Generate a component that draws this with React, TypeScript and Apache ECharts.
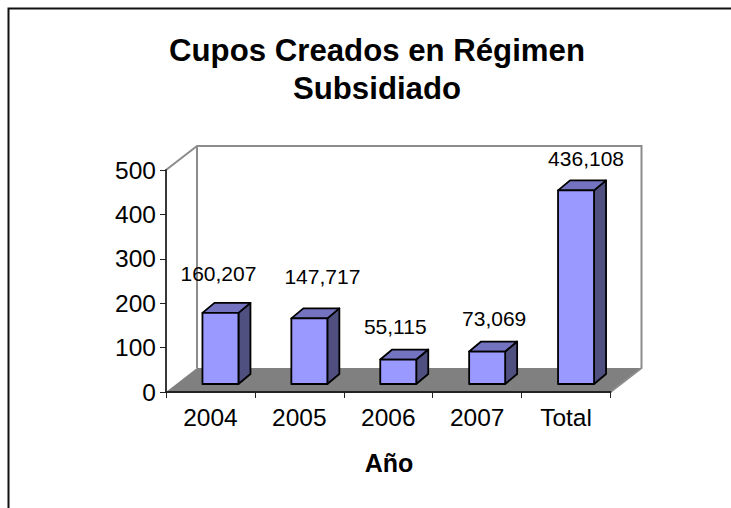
import React, { useEffect, useRef } from "react";
import * as echarts from "echarts";

const categories = ["2004", "2005", "2006", "2007", "Total"];
const values = [160.207, 147.717, 55.115, 73.069, 436.108];
const valueLabels = ["160,207", "147,717", "55,115", "73,069", "436,108"];
const yTicks = [0, 100, 200, 300, 400, 500];

const FONT = "Liberation Sans, Arial, sans-serif";
const DEPTH_X = 31;
const DEPTH_Y = 24;
const BAR_SHIFT_X = 10;
const BAR_SHIFT_Y = 8;
const BAR_W = 36;
const BAR_DX = 12;
const BAR_DY = 10;
const LABEL_NUDGE = [[-11, -39], [4, -42], [-12, -33], [-2, -33], [1, -32]];

export default function App() {
  const ref = useRef<HTMLDivElement>(null);
  useEffect(() => {
    const chart = echarts.init(ref.current!, undefined, { renderer: "svg" });
    const sideStroke = { stroke: "#000", lineWidth: 1.8, lineJoin: "round" };
    chart.setOption({
      animation: false,
      backgroundColor: "#fff",
      title: [
        {
          text: "Cupos Creados en Régimen\nSubsidiado",
          left: 372,
          top: 26,
          textAlign: "center",
          textStyle: { fontFamily: FONT, fontSize: 31.2, fontWeight: "bold", color: "#000", lineHeight: 38 },
        },
        {
          text: "Año",
          left: 384,
          top: 445,
          textAlign: "center",
          textStyle: { fontFamily: FONT, fontSize: 25, fontWeight: "bold", color: "#000" },
        },
      ],
      grid: { left: 166, right: 120.5, top: 170, bottom: 116, containLabel: false },
      xAxis: {
        type: "category",
        data: categories,
        axisLine: { lineStyle: { color: "#222", width: 1.8 } },
        axisTick: { show: true, length: 6, alignWithLabel: false, lineStyle: { color: "#222", width: 1 } },
        axisLabel: { fontFamily: FONT, fontSize: 24.5, color: "#000", margin: 13 },
        z: 5,
      },
      yAxis: {
        type: "value",
        min: 0,
        max: yTicks[yTicks.length - 1],
        interval: 100,
        splitLine: { show: false },
        axisLine: { show: true, lineStyle: { color: "#222", width: 1.8 } },
        axisTick: { show: true, length: 6, lineStyle: { color: "#222", width: 1 } },
        axisLabel: { fontFamily: FONT, fontSize: 24.5, color: "#000", margin: 10 },
        z: 5,
      },
      series: [
        {
          type: "custom",
          data: [[0, 0]],
          silent: true,
          z: 1,
          clip: false,
          renderItem: (_: any, api: any) => {
            const o = api.coord([0, 0]);
            const topLeft = api.coord([0, 500]);
            const size = api.size([1, 0]);
            const x0 = o[0] - size[0] / 2;
            const x1 = x0 + size[0] * categories.length;
            const y0 = o[1];
            const yt = topLeft[1];
            const wall = { fill: "none", stroke: "#8c8c8c", lineWidth: 2 };
            return {
              type: "group",
              children: [
                { type: "polygon", shape: { points: [[x0, y0], [x1, y0], [x1 + DEPTH_X, y0 - DEPTH_Y], [x0 + DEPTH_X, y0 - DEPTH_Y]] }, style: { fill: "#808080" } },
                { type: "polyline", shape: { points: [[x0, yt], [x0 + DEPTH_X, yt - DEPTH_Y], [x1 + DEPTH_X, yt - DEPTH_Y], [x1 + DEPTH_X, y0 - DEPTH_Y], [x1, y0]] }, style: wall },
                { type: "line", shape: { x1: x0 + DEPTH_X, y1: yt - DEPTH_Y, x2: x0 + DEPTH_X, y2: y0 - DEPTH_Y }, style: wall },
              ],
            };
          },
        },
        {
          type: "custom",
          data: values.map((v, i) => [i, v]),
          encode: { x: 0, y: 1 },
          z: 3,
          clip: false,
          renderItem: (_: any, api: any) => {
            const i = api.value(0);
            const v = api.value(1);
            const top = api.coord([i, v]);
            const base = api.coord([i, 0]);
            const xl = top[0] + BAR_SHIFT_X - BAR_W / 2;
            const xr = xl + BAR_W;
            const yt = top[1] - BAR_SHIFT_Y;
            const yb = base[1] - BAR_SHIFT_Y;
            const nudge = LABEL_NUDGE[i];
            return {
              type: "group",
              children: [
                { type: "polygon", shape: { points: [[xr, yt], [xr + BAR_DX, yt - BAR_DY], [xr + BAR_DX, yb - BAR_DY], [xr, yb]] }, style: { fill: "#4f4f80", ...sideStroke } },
                { type: "polygon", shape: { points: [[xl, yt], [xl + BAR_DX, yt - BAR_DY], [xr + BAR_DX, yt - BAR_DY], [xr, yt]] }, style: { fill: "#7373bf", ...sideStroke } },
                { type: "rect", shape: { x: xl, y: yt, width: BAR_W, height: yb - yt }, style: { fill: "#9999ff", ...sideStroke } },
                {
                  type: "text",
                  x: (xl + xr) / 2 + BAR_DX / 2 + nudge[0] + 3,
                  y: yt + nudge[1],
                  style: {
                    text: valueLabels[i],
                    fontFamily: FONT,
                    fontSize: 21,
                    fill: "#000",
                    textAlign: "center",
                    textVerticalAlign: "middle",
                  },
                },
              ],
            };
          },
        },
      ],
      graphic: [
        {
          type: "polyline",
          shape: { points: [[8.5, 508], [8.5, 8.5], [731, 8.5]] },
          style: { fill: "none", stroke: "#111", lineWidth: 2 },
          z: 10,
        },
      ],
    });
    return () => chart.dispose();
  }, []);
  return <div ref={ref} style={{ position: "fixed", left: 0, top: 0, width: 731, height: 508 }} />;
}
